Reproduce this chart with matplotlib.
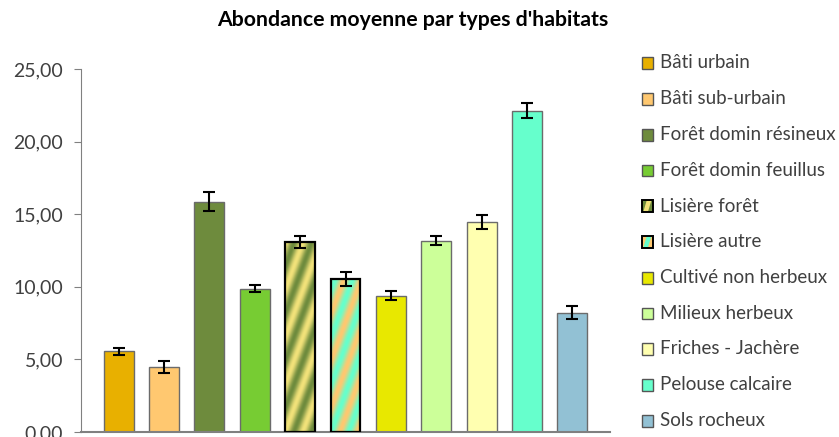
import numpy as np
import matplotlib
matplotlib.use("Agg")
import matplotlib.pyplot as plt
from matplotlib.patches import Rectangle, Polygon
from matplotlib.legend_handler import HandlerBase
from matplotlib.colors import LinearSegmentedColormap
from matplotlib.ticker import FuncFormatter

plt.rcParams['font.family'] = ['Lato', 'DejaVu Sans']

habitats = ["Bâti urbain", "Bâti sub-urbain", "Forêt domin résineux",
            "Forêt domin feuillus", "Lisière forêt", "Lisière autre",
            "Cultivé non herbeux", "Milieux herbeux", "Friches - Jachère",
            "Pelouse calcaire", "Sols rocheux"]
moyennes = [5.55, 4.48, 15.86, 9.87, 13.09, 10.54, 9.39, 13.18, 14.46, 22.13, 8.22]
erreurs = [0.22, 0.40, 0.64, 0.23, 0.40, 0.50, 0.29, 0.33, 0.46, 0.52, 0.46]
couleurs = ["#E8B000", "#FFC870", "#6E8B3D", "#77CC33", None, None,
            "#E8E800", "#CCFF99", "#FFFFB0", "#66FFCC", "#92C1D4"]
# bars with two-colour diagonal stripes
rayures = {4: ("#6E8B3D", "#F2E27A"), 5: ("#FFC870", "#66FFCC")}

fig = plt.figure(figsize=(8.39, 4.37), dpi=100)
ax = fig.add_axes([81 / 839, 5 / 437, 529 / 839, 363 / 437])

x = np.arange(len(habitats))
w = 0.66
ax.set_xlim(-0.83, len(habitats) - 1 + 0.83)
ax.set_ylim(0, 25)

bars = []
for i in x:
    if i in rayures:
        b = ax.bar(i, moyennes[i], w, facecolor="none", edgecolor="black",
                   linewidth=1.6, zorder=3)[0]
    else:
        b = ax.bar(i, moyennes[i], w, facecolor=couleurs[i], edgecolor="#6b6b6b",
                   linewidth=1.0, zorder=2)[0]
    bars.append(b)

# striped fill drawn as an image clipped to the bar
fig.canvas.draw()
for i, (c1, c2) in rayures.items():
    b = bars[i]
    x0, x1 = i - w / 2, i + w / 2
    h = moyennes[i]
    p0 = ax.transData.transform((x0, 0))
    p1 = ax.transData.transform((x1, h))
    nx, ny = int(p1[0] - p0[0]) * 2, int(p1[1] - p0[1]) * 2
    px, py = np.meshgrid(np.arange(nx) / 2, np.arange(ny) / 2)
    t = (px * 0.94 - py * 0.34) / 16.0
    val = 0.5 + 0.5 * np.cos(2 * np.pi * t)
    cmap = LinearSegmentedColormap.from_list("s%d" % i, [c1, c2])
    im = ax.imshow(val, cmap=cmap, extent=(x0, x1, 0, h), origin="lower",
                   aspect="auto", interpolation="bilinear", zorder=2)
    im.set_clip_path(b)

ax.errorbar(x, moyennes, yerr=erreurs, fmt="none", ecolor="black",
            elinewidth=1.5, capsize=4.5, capthick=1.5, zorder=4)

ax.set_yticks(np.arange(0, 26, 5))
ax.yaxis.set_major_formatter(FuncFormatter(lambda v, p: ("%.2f" % v).replace(".", ",")))
ax.set_xticks([])
ax.tick_params(axis="y", direction="out", length=5, color="#808080",
               labelsize=14, labelcolor="#404040", pad=8)
for s in ["top", "right"]:
    ax.spines[s].set_visible(False)
ax.spines["left"].set_color("#808080")
ax.spines["bottom"].set_color("#808080")
ax.spines["bottom"].set_linewidth(1.5)

fig.text(0.492, 0.955, "Abondance moyenne par types d'habitats", ha="center",
         va="center", fontsize=15.3, fontweight="bold", color="black")


class StripeHandler(HandlerBase):
    def __init__(self, c1, c2):
        super().__init__()
        self.c1, self.c2 = c1, c2

    def create_artists(self, legend, orig, xd, yd, width, height, fontsize, trans):
        s = min(width, height)
        r = Rectangle((xd, yd), s, s, facecolor=self.c1, edgecolor="none", transform=trans)
        band = Polygon([(xd + 0.15 * s, yd), (xd + 0.55 * s, yd), (xd + 0.85 * s, yd + s),
                        (xd + 0.45 * s, yd + s)], closed=True, facecolor=self.c2,
                       edgecolor="none", transform=trans)
        e = Rectangle((xd, yd), s, s, facecolor="none", edgecolor="black",
                      linewidth=1.4, transform=trans)
        return [r, band, e]


class SquareHandler(HandlerBase):
    def __init__(self, c):
        super().__init__()
        self.c = c

    def create_artists(self, legend, orig, xd, yd, width, height, fontsize, trans):
        s = min(width, height)
        r = Rectangle((xd, yd), s, s, facecolor=self.c, edgecolor="#555555",
                      linewidth=1.0, transform=trans)
        return [r]


handles = []
hmap = {}
for i, lab in enumerate(habitats):
    hd = Rectangle((0, 0), 1, 1)
    handles.append(hd)
    if i in rayures:
        hmap[hd] = StripeHandler(*rayures[i])
    else:
        hmap[hd] = SquareHandler(couleurs[i])

fig.legend(handles, habitats, handler_map=hmap, loc="upper left",
           bbox_to_anchor=(634 / 839, 1 - 47 / 437), frameon=False,
           fontsize=13.5, labelspacing=1.0, handlelength=0.62, handleheight=0.62,
           handletextpad=0.35, labelcolor="#404040", borderaxespad=0)

fig.savefig("out.png", dpi=100)
